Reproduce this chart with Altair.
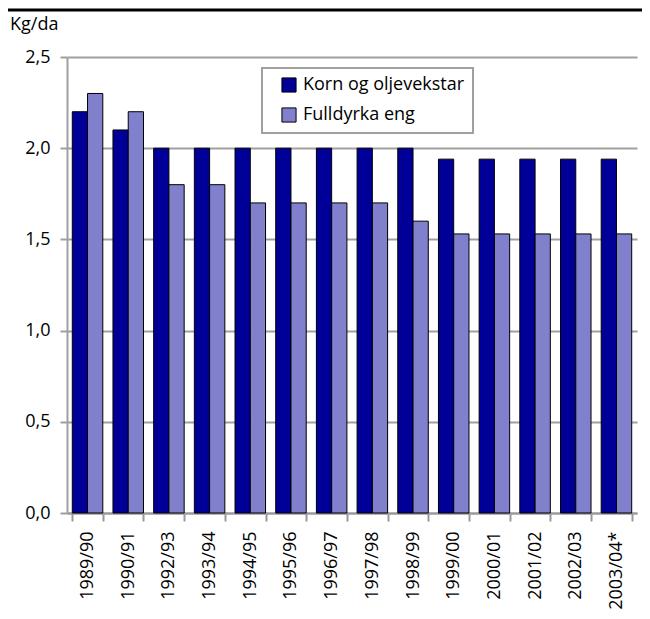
import altair as alt
import pandas as pd

categories = ["1989/90", "1990/91", "1992/93", "1993/94", "1994/95", "1995/96",
              "1996/97", "1997/98", "1998/99", "1999/00", "2000/01", "2001/02",
              "2002/03", "2003/04*"]
korn = [2.2, 2.1, 2.0, 2.0, 2.0, 2.0, 2.0, 2.0, 2.0, 1.94, 1.94, 1.94, 1.94, 1.94]
eng = [2.3, 2.2, 1.8, 1.8, 1.7, 1.7, 1.7, 1.7, 1.6, 1.53, 1.53, 1.53, 1.53, 1.53]
series = ["Korn og oljevekstar", "Fulldyrka eng"]
y_ticks = [0, 0.5, 1.0, 1.5, 2.0, 2.5]
unit = "Kg/da"

rows = []
for c, k, e in zip(categories, korn, eng):
    rows.append({"cat": c, "serie": series[0], "val": k})
    rows.append({"cat": c, "serie": series[1], "val": e})
df = pd.DataFrame(rows)

FONT = "Open Sans"
FS = 18

bars = alt.Chart(df).mark_bar(stroke="black", strokeWidth=1).encode(
    x=alt.X("cat:N", sort=categories, title=None,
            scale=alt.Scale(paddingInner=0.25, paddingOuter=0.13),
            axis=alt.Axis(labelAngle=-90, labelFontSize=FS, labelColor="black",
                          labelFont=FONT, tickBand="extent", tickColor="#999999",
                          tickSize=8, tickWidth=2, domainColor="#999999",
                          domainWidth=2, labelPadding=10, labelAlign="right",
                          labelBaseline="middle", labelLimit=200)),
    xOffset=alt.XOffset("serie:N", sort=series),
    y=alt.Y("val:Q", title=None,
            scale=alt.Scale(domain=[0, 2.5], nice=False),
            axis=alt.Axis(values=y_ticks, labelFontSize=FS, labelColor="black",
                          labelFont=FONT,
                          labelExpr="replace(format(datum.value, '.1f'), '.', ',')",
                          grid=True, gridColor="#A0A0A0", gridWidth=2,
                          tickColor="#A0A0A0", tickSize=7, tickWidth=2,
                          domainColor="#A0A0A0", domainWidth=2, labelPadding=10)),
    color=alt.Color("serie:N", sort=series, title=None,
                    scale=alt.Scale(domain=series, range=["#000099", "#8080CC"]),
                    legend=alt.Legend(orient="none", legendX=195, legendY=11,
                                      strokeColor="#A0A0A0",
                                      padding=8, symbolType="square",
                                      symbolSize=200, symbolStrokeColor="black",
                                      symbolStrokeWidth=1, labelFontSize=FS,
                                      labelFont=FONT, labelColor="black",
                                      labelLimit=400,
                                      rowPadding=10, symbolOffset=10,
                                      labelOffset=5, fillColor="white")),
)

top_line = alt.Chart(pd.DataFrame({"a": [0]})).mark_rule(
    color="black", strokeWidth=3).encode(
    x=alt.value(-59), x2=alt.value(583), y=alt.value(-47))

label = alt.Chart(pd.DataFrame({"t": [unit]})).mark_text(
    align="left", baseline="alphabetic", fontSize=FS, font=FONT, color="black"
).encode(text="t:N", x=alt.value(-57), y=alt.value(-27))

chart = alt.layer(bars, top_line, label).properties(
    width=570, height=456,
    autosize=alt.AutoSizeParams(type="none"),
    padding={"left": 59, "top": 49, "right": 5, "bottom": 100},
).configure_view(stroke=None).configure_legend(strokeWidth=2)

chart.save("out.html", embed_options={"renderer": "svg", "actions": False})
